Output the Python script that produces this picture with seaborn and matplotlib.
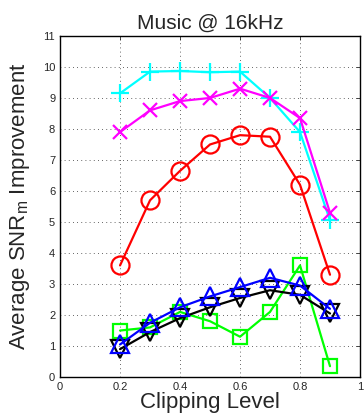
import numpy as np
import pandas as pd
import matplotlib
matplotlib.use('Agg')
import matplotlib.pyplot as plt
import seaborn as sns

clip_level = [0.2, 0.3, 0.4, 0.5, 0.6, 0.7, 0.8, 0.9]

cyan_plus = [9.15, 9.85, 9.87, 9.83, 9.85, 9.0, 7.9, 5.05]
magenta_x = [7.9, 8.6, 8.9, 9.0, 9.3, 9.0, 8.35, 5.3]
red_circle = [3.6, 5.7, 6.65, 7.5, 7.8, 7.75, 6.2, 3.3]
blue_tri = [1.05, 1.75, 2.25, 2.6, 2.9, 3.2, 2.95, 2.2]
black_tri = [0.9, 1.45, 1.9, 2.25, 2.55, 2.8, 2.65, 2.05]
green_sq = [1.5, 1.6, 2.1, 1.8, 1.3, 2.1, 3.6, 0.35]

x_ticks = [0, 0.2, 0.4, 0.6, 0.8, 1]
x_tick_labels = ['0', '0.2', '0.4', '0.6', '0.8', '1']
y_ticks = list(range(0, 12))

sns.set_style('white')
plt.rcParams['font.family'] = ['Liberation Sans', 'DejaVu Sans']
plt.rcParams['mathtext.fontset'] = 'custom'
plt.rcParams['mathtext.rm'] = 'Liberation Sans'
plt.rcParams['mathtext.it'] = 'Liberation Sans'

fig = plt.figure(figsize=(3.64, 4.18), dpi=100)
ax = fig.add_axes([0.165, 0.098, 0.824, 0.816])

series = [
	(cyan_plus, '#00ffff', '+', 13),
	(magenta_x, '#ff00ff', 'x', 10),
	(red_circle, '#ff0000', 'o', 13),
	(green_sq, '#00ff00', 's', 10),
	(black_tri, '#000000', 'v', 13),
	(blue_tri, '#0000ff', '^', 13),
]

for values, color, marker, ms in series:
	df = pd.DataFrame({'x': clip_level, 'y': values})
	sns.lineplot(
		data=df, x='x', y='y', ax=ax,
		color=color, linewidth=1.6,
		marker=marker, markersize=ms,
		markerfacecolor='none', markeredgecolor=color,
		markeredgewidth=1.6,
	)

ax.set_xlim(0, 1)
ax.set_ylim(0, 11)
ax.set_xticks(x_ticks)
ax.set_xticklabels(x_tick_labels)
ax.set_yticks(y_ticks)
ax.tick_params(direction='in', labelsize=8, length=3, width=0.6, top=True, right=True)
ax.grid(True, linestyle=(0, (1, 4)), color='#333333', linewidth=0.6)
for spine in ax.spines.values():
	spine.set_linewidth(1.0)
	spine.set_color('black')

ax.set_title('Music @ 16kHz', fontsize=15, pad=5)
ax.set_xlabel('Clipping Level', fontsize=16, labelpad=0)
ax.set_ylabel('Average SNR$_\\mathrm{m}$ Improvement', fontsize=16, labelpad=8)

plt.savefig('out.png', dpi=100)
